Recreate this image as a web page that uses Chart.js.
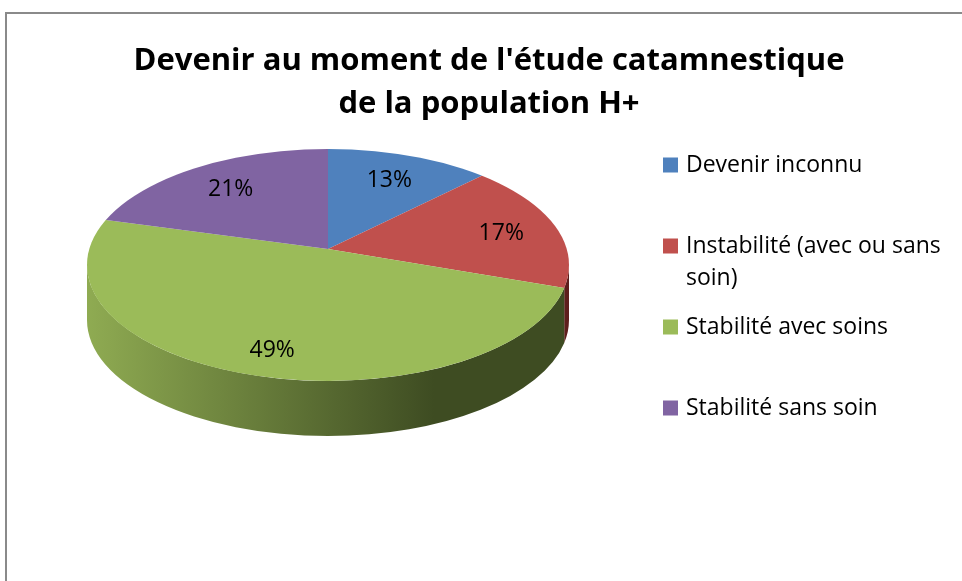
<!DOCTYPE html>
<html>
<head>
<meta charset="utf-8">
<script src="https://cdn.jsdelivr.net/npm/chart.js@4.4.0/dist/chart.umd.min.js"></script>
<style>
  html, body { margin: 0; padding: 0; background: #fff; }
  #wrap { position: relative; width: 962px; height: 581px; }
</style>
</head>
<body>
<div id="wrap"><canvas id="devenirChart"></canvas></div>
<script>
// données
const categories = ['Devenir inconnu', 'Instabilité (avec ou sans soin)', 'Stabilité avec soins', 'Stabilité sans soin'];
const legendLines = [['Devenir inconnu'], ['Instabilité (avec ou sans', 'soin)'], ['Stabilité avec soins'], ['Stabilité sans soin']];
const shares = [13, 17, 49, 21];
const titleLines = ["Devenir au moment de l'étude catamnestique", 'de la population H+'];

// couleurs (dessus / côté clair / côté sombre)
const topColors = ['#4f81bd', '#c0504d', '#9bbb59', '#8064a2'];
const sideLight = ['#4a75ad', '#a4403d', '#8fab52', '#6f5690'];
const sideDark = ['#26405f', '#5e1e1c', '#3e4c22', '#3f2f55'];

const FONT = '"Open Sans", "DejaVu Sans", sans-serif';

// cadre gris
const framePlugin = {
    id: 'frame',
    beforeDraw(chart) {
        const ctx = chart.ctx;
        ctx.save();
        ctx.strokeStyle = '#8a8a8a';
        ctx.lineWidth = 2;
        ctx.beginPath();
        ctx.moveTo(chart.width, 13);
        ctx.lineTo(6, 13);
        ctx.lineTo(6, chart.height);
        ctx.stroke();
        ctx.restore();
    }
};

// point où le rayon d'angle a (vu depuis le sommet) coupe le bord du disque,
// renvoyé comme angle paramétrique de l'ellipse
function rimAngle(a, o) {
    const dx = Math.cos(a) * o.sx / o.rx;
    const dy = Math.sin(a) * o.sy / o.ry;
    const ay = -o.lift / o.ry;
    const A = dx * dx + dy * dy;
    const B = 2 * ay * dy;
    const C = ay * ay - 1;
    const s = (-B + Math.sqrt(B * B - 4 * A * C)) / (2 * A);
    let phi = Math.atan2(ay + dy * s, dx * s);
    while (phi < a - Math.PI) phi += 2 * Math.PI;
    while (phi > a + Math.PI) phi -= 2 * Math.PI;
    return phi;
}

// camembert en perspective : flancs, puis disque aplati et découpé
const pie3dPlugin = {
    id: 'pie3d',
    beforeDatasetsDraw(chart, args, o) {
        const ctx = chart.ctx;
        const meta = chart.getDatasetMeta(0);
        if (!meta.data.length) return;

        // flancs visibles (moitié avant de l'ellipse)
        meta.data.forEach((arc, i) => {
            const a1 = Math.max(rimAngle(arc.startAngle, o), 0);
            const a2 = Math.min(rimAngle(arc.endAngle, o), Math.PI);
            if (a2 <= a1) return;
            const grad = ctx.createLinearGradient(o.cx - o.rx, 0, o.cx + o.rx, 0);
            grad.addColorStop(0, sideLight[i]);
            grad.addColorStop(0.72, sideDark[i]);
            grad.addColorStop(1, sideDark[i]);
            ctx.save();
            ctx.beginPath();
            ctx.ellipse(o.cx, o.cy, o.rx, o.ry, 0, a1, a2);
            ctx.ellipse(o.cx, o.cy + o.depth, o.rx, o.ry, 0, a2, a1, true);
            ctx.closePath();
            ctx.fillStyle = grad;
            ctx.fill();
            ctx.restore();
        });

        // dessus : secteurs Chart.js étirés depuis le sommet, limités à l'ellipse
        const el = meta.data[0];
        const r = el.outerRadius;
        ctx.save();
        ctx.beginPath();
        ctx.ellipse(o.cx, o.cy, o.rx, o.ry, 0, 0, Math.PI * 2);
        ctx.clip();
        ctx.translate(o.cx, o.cy - o.lift);
        ctx.scale(o.sx / r, o.sy / r);
        ctx.translate(-el.x, -el.y);
    },
    afterDatasetsDraw(chart, args, o) {
        const ctx = chart.ctx;
        ctx.restore();
        const meta = chart.getDatasetMeta(0);
        ctx.save();
        ctx.font = '23px ' + FONT;
        ctx.fillStyle = '#000';
        ctx.textAlign = 'center';
        ctx.textBaseline = 'middle';
        meta.data.forEach((arc, i) => {
            const phi = rimAngle((arc.startAngle + arc.endAngle) / 2, o);
            const x = o.cx + Math.cos(phi) * o.rx * o.labelRadius;
            const y = o.cy + Math.sin(phi) * o.ry * o.labelRadius;
            ctx.fillText(shares[i] + '%', x, y);
        });
        ctx.restore();
    }
};

// légende à droite
const legendPlugin = {
    id: 'sideLegend',
    afterDraw(chart, args, opts) {
        const ctx = chart.ctx;
        ctx.save();
        ctx.font = '23px ' + FONT;
        ctx.textBaseline = 'middle';
        ctx.textAlign = 'left';
        legendLines.forEach((lines, i) => {
            const y = opts.top + i * opts.step;
            ctx.fillStyle = topColors[i];
            ctx.fillRect(opts.x, y - opts.box / 2, opts.box, opts.box);
            ctx.fillStyle = '#000';
            lines.forEach((line, k) => {
                ctx.fillText(line, opts.x + opts.box + 8, y + k * opts.lineHeight);
            });
        });
        ctx.restore();
    }
};

const ctx = document.getElementById('devenirChart').getContext('2d');
new Chart(ctx, {
    type: 'pie',
    data: {
        labels: categories,
        datasets: [{
            data: shares,
            backgroundColor: topColors,
            borderWidth: 0,
            clip: false
        }]
    },
    options: {
        responsive: true,
        maintainAspectRatio: false,
        animation: false,
        events: [],
        layout: { padding: { left: 16, right: 0, top: 0, bottom: 20 } },
        plugins: {
            legend: { display: false },
            tooltip: { enabled: false },
            title: {
                display: true,
                text: titleLines,
                color: '#000',
                font: { family: FONT, size: 31, weight: 'bold', lineHeight: 1.39 },
                padding: { top: 40, bottom: 10 }
            },
            pie3d: { cx: 328, cy: 265, rx: 241, ry: 116, lift: 16, sx: 260, sy: 132, depth: 55, labelRadius: 0.77 },
            sideLegend: { x: 663, top: 165, step: 81, box: 15, lineHeight: 32 }
        }
    },
    plugins: [framePlugin, pie3dPlugin, legendPlugin]
});
</script>
</body>
</html>
